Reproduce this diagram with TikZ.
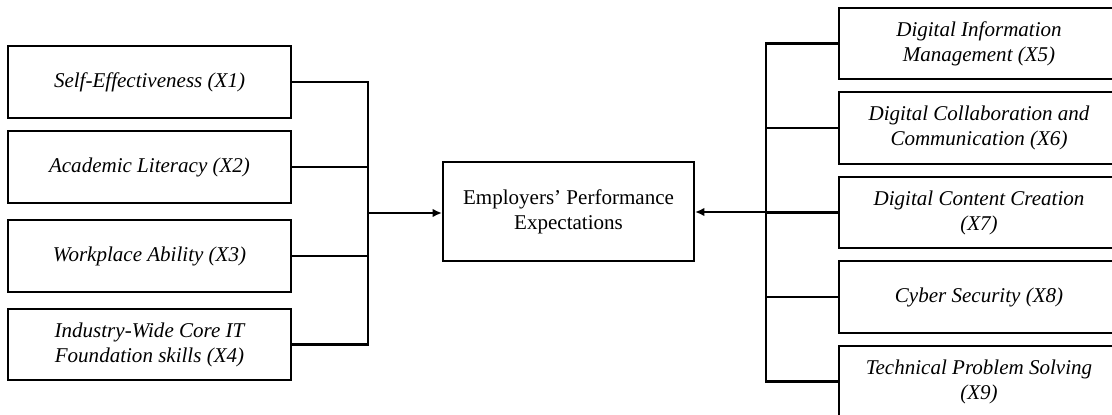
\documentclass[tikz,border=0pt]{standalone}
\usepackage{fontspec}
\setmainfont{Liberation Serif}
\usetikzlibrary{arrows.meta}

\begin{document}
\begin{tikzpicture}[x=0.58pt,y=-0.58pt,
  sbox/.style={draw,line width=1.2pt,rectangle,align=center,minimum width=164pt,minimum height=41.5pt,font=\fontsize{12.2}{14.5}\selectfont\itshape},
  rbox/.style={sbox,minimum width=162pt},
  link/.style={black,line width=1.2pt},
  >={Latex[length=5.5pt,width=5pt]}]
\useasboundingbox (0,0) rectangle (1112,415);
\clip (0,0) rectangle (1112,415);

\node[sbox] (x1) at (149.5,82) {Self-Effectiveness (X1)};
\node[sbox] (x2) at (149.5,167) {Academic Literacy (X2)};
\node[sbox] (x3) at (149.5,256) {Workplace Ability (X3)};
\node[sbox] (x4) at (149.5,344.5) {Industry-Wide Core IT\\Foundation skills (X4)};

\node[draw,line width=1.2pt,align=center,minimum width=145.5pt,minimum height=57pt,font=\fontsize{12.2}{14.5}\selectfont] (emp) at (568.5,211.5) {Employers' Performance\\Expectations};

\node[rbox] (x5) at (979,43.5) {Digital Information\\Management (X5)};
\node[rbox] (x6) at (979,128) {Digital Collaboration and\\Communication (X6)};
\node[rbox] (x7) at (979,212.5) {Digital Content Creation\\(X7)};
\node[rbox] (x8) at (979,297) {Cyber Security (X8)};
\node[rbox] (x9) at (979,381.5) {Technical Problem Solving\\(X9)};

% left bus
\coordinate (jl) at (368,213);
\draw[link] (x1.east) -| (jl) |- (x4.east);
\foreach \i in {2,3}
  \draw[link] (x\i.east) -- (x\i.east -| jl);
\path[->,link] (jl) edge (emp.west |- jl);

% right bus
\coordinate (jr) at (766,212);
\draw[link] (x5.west) -| (jr) |- (x9.west);
\foreach \i in {6,7,8}
  \draw[link] (x\i.west) -- (x\i.west -| jr);
\path[->,link] (jr) edge (emp.east |- jr);
\end{tikzpicture}
\end{document}
